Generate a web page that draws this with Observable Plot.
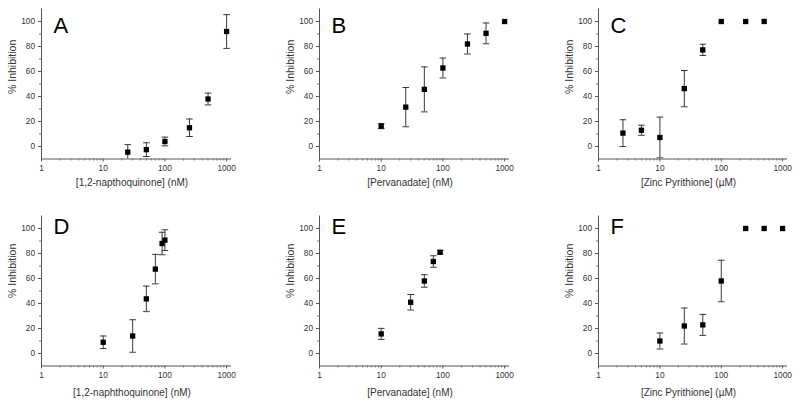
<!DOCTYPE html>
<html><head><meta charset="utf-8">
<script src="https://cdn.jsdelivr.net/npm/d3@7"></script>
<script src="https://cdn.jsdelivr.net/npm/@observablehq/plot@0.6"></script>
<style>
html,body{margin:0;padding:0;background:#fff;}
#wrap{position:relative;width:800px;height:406px;overflow:hidden;}
.panel{position:absolute;}
</style></head><body><div id="wrap"></div>
<script>
// ---- data ----
const letters = ["A","B","C","D","E","F"];
const xTitles = ["[1,2-napthoquinone] (nM)", "[Pervanadate] (nM)", "[Zinc Pyrithione] (\u00b5M)",
                 "[1,2-naphthoquinone] (nM)", "[Pervanadate] (nM)", "[Zinc Pyrithione] (\u00b5M)"];
const yTitle = "% Inhibition";

const concA = [25, 50, 100, 250, 500, 1000];
const inhA  = [-4.5, -2.5, 4, 15, 38, 92];
const errA  = [6, 5.5, 3.5, 7, 4.7, 13.5];

const concB = [10, 25, 50, 100, 250, 500, 1000];
const inhB  = [16.3, 31.5, 45.7, 62.8, 82, 90.5, 100];
const errB  = [2, 15.7, 18, 8, 8, 8.3, 0];

const concC = [2.5, 5, 10, 25, 50, 100, 250, 500];
const inhC  = [10.7, 13, 7.2, 46.3, 77.3, 100, 100, 100];
const errC  = [10.7, 4, 16.3, 14.5, 4.5, 0, 0, 0];

const concD = [10, 30, 50, 70, 90, 100];
const inhD  = [9, 14, 43.7, 67.5, 88, 90.7];
const errD  = [5, 13, 10.2, 11.8, 9, 8.3];

const concE = [10, 30, 50, 70, 90];
const inhE  = [15.7, 41, 58, 73.6, 81];
const errE  = [4.4, 6.2, 5, 4.6, 1.5];

const concF = [10, 25, 50, 100, 250, 500, 1000];
const inhF  = [10, 22, 22.9, 58, 100, 100, 100];
const errF  = [6.4, 14.4, 8.4, 16.6, 0, 0, 0];

const xMajor = [1, 10, 100, 1000];
const xMinor = [2,3,4,5,6,7,8,9,20,30,40,50,60,70,80,90,200,300,400,500,600,700,800,900];
const yMajor = [0, 20, 40, 60, 80, 100];
const yMinor = [10, 30, 50, 70, 90];

const series = [
  [concA, inhA, errA], [concB, inhB, errB], [concC, inhC, errC],
  [concD, inhD, errD], [concE, inhE, errE], [concF, inhF, errF]
];

// ---- layout ----
const FONT = "Arial, 'Liberation Sans', sans-serif";
const cols = [
  {left: 0,   width: 265, ml: 41, mr: 34},
  {left: 265, width: 265, ml: 54, mr: 21},
  {left: 530, width: 270, ml: 68, mr: 13}
];
const rows = [
  {top: 0,   height: 200, mt: 8.5,  mb: 41.5, letterDy: 8.2, xtDy: 23.5, ytDy: 10, tp: 3},
  {top: 200, height: 206, mt: 15.5, mb: 40.5, letterDy: 2.8, xtDy: 27,   ytDy: 7,  tp: 3}
];

const capSymbol = {
  draw(ctx, size) {
    const w = Math.sqrt(size / Math.PI);
    ctx.moveTo(-w, 0); ctx.lineTo(w, 0);
  }
};

const wrap = document.getElementById("wrap");
series.forEach(([conc, inh, err], i) => {
  const col = cols[i % 3], row = rows[Math.floor(i / 3)];
  const data = conc.map((c, k) => ({c, v: inh[k], e: err[k]}));
  const bars = data.filter(d => d.e > 0);
  const svg = Plot.plot({
    width: col.width, height: row.height,
    marginLeft: col.ml, marginRight: col.mr, marginTop: row.mt, marginBottom: row.mb,
    style: {fontFamily: FONT, background: "transparent", overflow: "visible", color: "#333"},
    x: {type: "log", domain: [1, 1200]},
    y: {domain: [-10, 110]},
    marks: [
      Plot.ruleX(bars, {x: "c", y1: d => d.v - d.e, y2: d => d.v + d.e, stroke: "#3a3a3a", strokeWidth: 1, clip: true}),
      Plot.dot(bars, {x: "c", y: d => d.v + d.e, symbol: capSymbol, r: 3.3, stroke: "#3a3a3a", strokeWidth: 1, fill: "none", clip: true}),
      Plot.dot(bars, {x: "c", y: d => d.v - d.e, symbol: capSymbol, r: 3.3, stroke: "#3a3a3a", strokeWidth: 1, fill: "none", clip: true}),
      Plot.dot(data, {x: "c", y: "v", symbol: "square", r: 3, fill: "#000", stroke: "none"}),
      Plot.ruleX([1], {stroke: "#555", strokeWidth: 1}),
      Plot.ruleY([-10], {stroke: "#555", strokeWidth: 1}),
      Plot.axisX(xMajor, {tickSize: 3, tickPadding: row.tp, tickFormat: d => String(d), fontSize: 8.3, label: null, stroke: "#555", fill: "#333"}),
      Plot.axisX(xMinor, {tickSize: 2, tickFormat: () => "", label: null, stroke: "#777"}),
      Plot.axisY(yMajor, {tickSize: 3, tickPadding: 3.5, tickFormat: d => String(d), fontSize: 8.3, label: null, stroke: "#555", fill: "#333"}),
      Plot.axisY(yMinor, {tickSize: 2, tickFormat: () => "", label: null, stroke: "#777"}),
      Plot.text([letters[i]], {frameAnchor: "top-left", text: d => d, dx: 12, dy: row.letterDy, fontSize: 22, textAnchor: "start", lineAnchor: "top", fill: "#000"}),
      Plot.text([xTitles[i]], {frameAnchor: "bottom", text: d => d, dx: -4.5, dy: row.xtDy, fontSize: 10, lineAnchor: "middle", fill: "#333"}),
      Plot.text([yTitle], {frameAnchor: "left", text: d => d, dx: -29, dy: row.ytDy, rotate: -90, fontSize: 10.5, lineAnchor: "middle", fill: "#333"})
    ]
  });
  const div = document.createElement("div");
  div.className = "panel";
  div.style.left = col.left + "px";
  div.style.top = row.top + "px";
  div.appendChild(svg);
  wrap.appendChild(div);
});
</script>
</body></html>
